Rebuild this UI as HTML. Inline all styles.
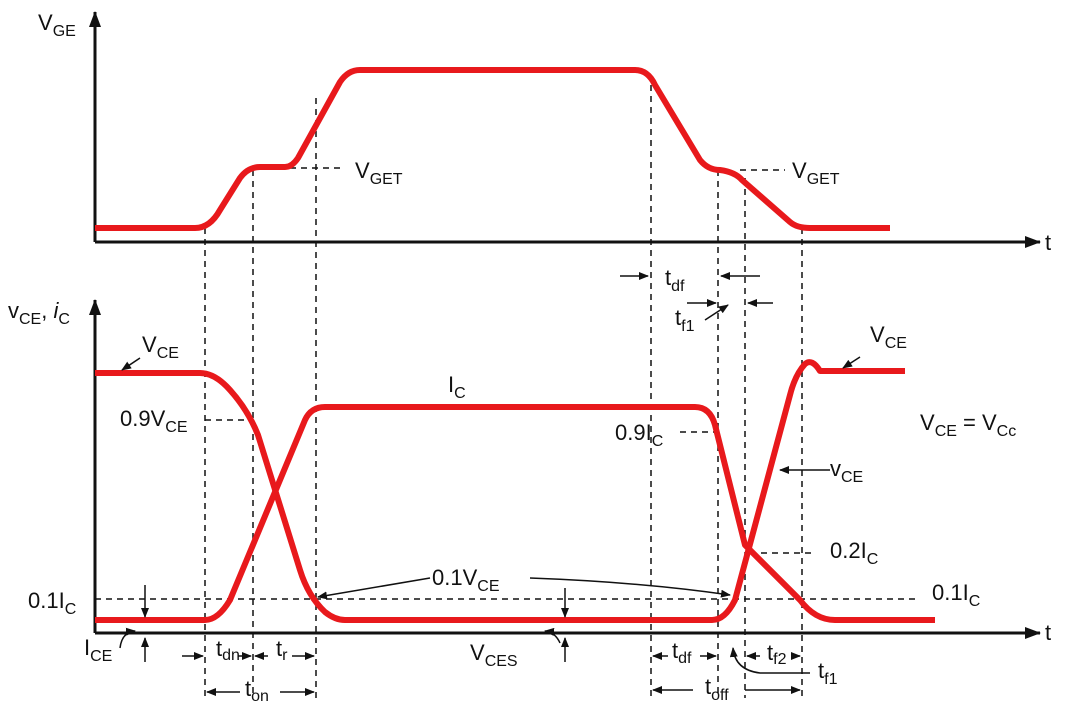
<!DOCTYPE html>
<html><head><meta charset="utf-8"><style>
html,body{margin:0;padding:0;background:#fff;width:1080px;height:705px;overflow:hidden}
text{font-family:"Liberation Sans",sans-serif;fill:#111;font-size:22px}
.s{font-size:16px}
</style></head><body>
<svg width="1080" height="705" viewBox="0 0 1080 705" xmlns="http://www.w3.org/2000/svg">
<defs>
<marker id="a" markerWidth="10" markerHeight="8" refX="9" refY="4" orient="auto" markerUnits="userSpaceOnUse"><path d="M0,0 L10,4 L0,8z" fill="#111"/></marker>
<marker id="b" markerWidth="16" markerHeight="12" refX="15" refY="6" orient="auto" markerUnits="userSpaceOnUse"><path d="M0,0 L16,6 L0,12z" fill="#111"/></marker>
</defs>
<!-- axes -->
<g stroke="#111" stroke-width="3" fill="none">
<path d="M95,242 V12" marker-end="url(#b)"/>
<path d="M95,242 H1040" marker-end="url(#b)"/>
<path d="M95,633 V300" marker-end="url(#b)"/>
<path d="M95,633 H1040" marker-end="url(#b)"/>
</g>
<!-- dashed -->
<g stroke="#111" stroke-width="1.5" stroke-dasharray="6,5" fill="none">
<path d="M205,228 V698"/><path d="M253,170 V698"/><path d="M316,98 V698"/>
<path d="M651,85 V698"/><path d="M718,170 V698"/><path d="M745,178 V698"/><path d="M802,228 V698"/>
<path d="M290,168 H345"/><path d="M740,170 H785"/>
<path d="M205,420 H245"/><path d="M95,599 H920"/><path d="M680,432 H715"/><path d="M750,553 H815"/>
</g>
<!-- curves -->
<g stroke="#e8191c" stroke-width="6" fill="none" stroke-linejoin="round">
<path d="M95,228 H195 Q210,228 220,210 L240,178 Q248,167 260,167 H285 Q292,167 298,158 L340,82 Q348,70 360,70 H635 Q648,70 655,85 L700,160 Q708,170 720,170 Q735,172 742,180 L790,222 Q797,228 810,228 H890"/>
<path d="M95,373 H200 Q215,373 230,390 Q248,410 258,435 L300,570 Q308,596 325,612 Q335,620 345,620 H712 Q725,620 735,600 L790,395 Q795,375 805,364 Q812,358 820,371 H905"/>
<path d="M95,620 H205 Q218,620 230,600 L305,420 Q311,407 325,407 H695 Q710,407 715,425 L745,545 L800,600 Q815,620 835,620 H935"/>
</g>
<!-- annotation arrows -->
<g stroke="#111" stroke-width="1.5" fill="none">
<path d="M140,358 L122,370" marker-end="url(#a)"/>
<path d="M860,357 L843,368" marker-end="url(#a)"/>
<path d="M145,585 V617" marker-end="url(#a)"/>
<path d="M145,662 V638" marker-end="url(#a)"/>
<path d="M565,588 V617" marker-end="url(#a)"/>
<path d="M565,662 V638" marker-end="url(#a)"/>
<path d="M120,648 Q122,632 135,631" marker-end="url(#a)"/>
<path d="M560,643 Q555,632 545,631" marker-end="url(#a)"/>
<path d="M430,578 L318,597" marker-end="url(#a)"/>
<path d="M530,578 Q640,582 730,595" marker-end="url(#a)"/>
<path d="M830,470 H780" marker-end="url(#a)"/>
<path d="M620,276 H648" marker-end="url(#a)"/>
<path d="M760,276 H721" marker-end="url(#a)"/>
<path d="M687,303 H716" marker-end="url(#a)"/>
<path d="M773,303 H748" marker-end="url(#a)"/>
<path d="M705,320 L728,305" marker-end="url(#a)"/>
<path d="M182,656 H203" marker-end="url(#a)"/><path d="M238,656 H251" marker-end="url(#a)"/>
<path d="M268,656 H255" marker-end="url(#a)"/><path d="M292,656 H314" marker-end="url(#a)"/>
<path d="M240,692 H207" marker-end="url(#a)"/><path d="M280,692 H314" marker-end="url(#a)"/>
<path d="M668,656 H653" marker-end="url(#a)"/><path d="M700,656 H716" marker-end="url(#a)"/>
<path d="M760,656 H747" marker-end="url(#a)"/><path d="M792,656 H800" marker-end="url(#a)"/>
<path d="M693,690 H653" marker-end="url(#a)"/><path d="M745,690 H800" marker-end="url(#a)"/>
<path d="M810,673 H760 Q735,670 733,648" marker-end="url(#a)"/>
</g>
<!-- labels -->
<text x="38" y="30">V<tspan class="s" dy="6">GE</tspan></text>
<text x="1045" y="250">t</text>
<text x="1045" y="640">t</text>
<text x="355" y="178">V<tspan class="s" dy="6">GET</tspan></text>
<text x="792" y="178">V<tspan class="s" dy="6">GET</tspan></text>
<text x="8" y="318">v<tspan class="s" dy="6">CE</tspan><tspan dy="-6">, </tspan><tspan font-style="italic">i</tspan><tspan class="s" dy="6">C</tspan></text>
<text x="142" y="352">V<tspan class="s" dy="6">CE</tspan></text>
<text x="120" y="426">0.9V<tspan class="s" dy="6">CE</tspan></text>
<text x="448" y="392" font-family="Liberation Serif">I<tspan class="s" dy="6">C</tspan></text>
<text x="28" y="608">0.1I<tspan class="s" dy="6">C</tspan></text>
<text x="84" y="655">I<tspan class="s" dy="6">CE</tspan></text>
<text x="432" y="585">0.1V<tspan class="s" dy="6">CE</tspan></text>
<text x="470" y="660">V<tspan class="s" dy="6">CES</tspan></text>
<text x="615" y="440">0.9I<tspan class="s" dy="6">C</tspan></text>
<text x="920" y="430">V<tspan class="s" dy="6">CE</tspan><tspan dy="-6"> = V</tspan><tspan class="s" dy="6">Cc</tspan></text>
<text x="830" y="476">v<tspan class="s" dy="6">CE</tspan></text>
<text x="830" y="558">0.2I<tspan class="s" dy="6">C</tspan></text>
<text x="932" y="600">0.1I<tspan class="s" dy="6">C</tspan></text>
<text x="870" y="342">V<tspan class="s" dy="6">CE</tspan></text>
<text x="665" y="285">t<tspan class="s" dy="6">df</tspan></text>
<text x="675" y="325">t<tspan class="s" dy="6">f1</tspan></text>
<text x="216" y="656" font-size="18">t<tspan class="s" dy="4" font-size="13">dn</tspan></text>
<text x="276" y="656" font-size="18">t<tspan class="s" dy="4" font-size="13">r</tspan></text>
<text x="245" y="696">t<tspan class="s" dy="5">on</tspan></text>
<text x="672" y="658">t<tspan class="s" dy="5">df</tspan></text>
<text x="767" y="660" font-size="18">t<tspan class="s" dy="4" font-size="13">f2</tspan></text>
<text x="818" y="678">t<tspan class="s" dy="6">f1</tspan></text>
<text x="705" y="694">t<tspan class="s" dy="6">off</tspan></text>
</svg>
</body></html>
